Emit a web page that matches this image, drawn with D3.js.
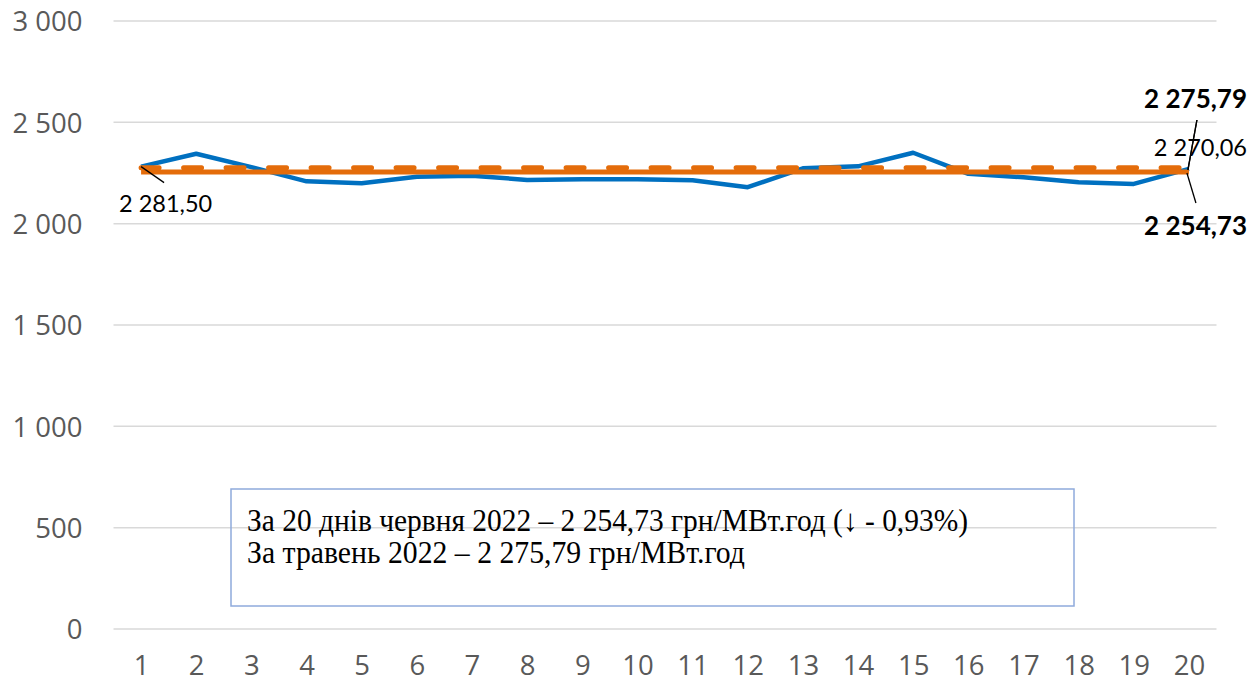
<!DOCTYPE html>
<html>
<head>
<meta charset="utf-8">
<script src="https://cdn.jsdelivr.net/npm/d3@7"></script>
<style>
  body { margin: 0; background: #ffffff; }
  svg { display: block; }
</style>
</head>
<body>
<div id="container"></div>
<script>
/* DATA | daily RDN prices, June 2022 */
const days = ["1","2","3","4","5","6","7","8","9","10","11","12","13","14","15","16","17","18","19","20"]
const dailyPrice = [2281.50, 2345, 2279, 2209, 2199, 2232, 2237, 2216, 2219, 2219,
                    2214, 2180, 2273, 2283, 2350, 2246, 2229, 2204, 2196, 2270.06]
const juneAvg = 2254.73   /* solid orange */
const mayAvg = 2275.79    /* dashed orange */
const yTicks = [0, 500, 1000, 1500, 2000, 2500, 3000]
const noteLines = [
  "За 20 днів червня 2022 – 2 254,73 грн/МВт.год (↓ - 0,93%)",
  "За травень 2022 – 2 275,79 грн/МВт.год"
]

/* CONSTANTS */
const width = 1251,
  height = 682,
  margin = { top: 21, bottom: 53, left: 113.5, right: 34.5 }

const blue = "#0070c0",
  orange = "#e46c0a",
  grid = "#d9d9d9"

/* ukrainian style numbers: space for thousands, comma for decimals */
const uk = d3.formatLocale({ decimal: ",", thousands: " ", grouping: [3], currency: ["", ""] })
const fmtTick = uk.format(",")
const fmt2 = uk.format(",.2f")

/* SCALES */
const xScale = d3.scalePoint()
  .domain(days)
  .range([margin.left, width - margin.right])
  .padding(0.5)

const yScale = d3.scaleLinear()
  .domain([0, 3000])
  .range([height - margin.bottom, margin.top])

/* SVG */
const svg = d3.select("#container")
  .append("svg")
  .attr("width", width)
  .attr("height", height)

/* GRIDLINES */
svg.append("g")
  .selectAll("line")
  .data(yTicks)
  .join("line")
  .attr("x1", margin.left)
  .attr("x2", width - margin.right)
  .attr("y1", d => yScale(d))
  .attr("y2", d => yScale(d))
  .attr("stroke", grid)
  .attr("stroke-width", 1.5)

/* AXES | d3 axes, domain path and ticks hidden */
const yAxis = d3.axisLeft(yScale)
  .tickValues(yTicks)
  .tickFormat(fmtTick)
  .tickSize(0)
  .tickPadding(31)

svg.append("g")
  .attr("transform", `translate(${margin.left}, 0)`)
  .call(yAxis)
  .call(g => g.select(".domain").remove())
  .selectAll("text")
  .attr("dy", "0.36em")
  .style("font-family", "'Open Sans', sans-serif")
  .style("font-size", "27.5px")
  .style("fill", "#595959")

const xAxis = d3.axisBottom(xScale)
  .tickSize(0)
  .tickPadding(26)

svg.append("g")
  .attr("transform", `translate(0, ${yScale(0)})`)
  .call(xAxis)
  .call(g => g.select(".domain").remove())
  .selectAll("text")
  .attr("dy", "0.71em")
  .style("font-family", "'Open Sans', sans-serif")
  .style("font-size", "27.5px")
  .style("fill", "#595959")

/* LINES */
const lineGen = d3.line()
  .x((d, i) => xScale(days[i]))
  .y(d => yScale(d))

svg.append("path")
  .datum(dailyPrice)
  .attr("d", lineGen)
  .attr("fill", "none")
  .attr("stroke", blue)
  .attr("stroke-width", 4.5)
  .attr("stroke-linejoin", "round")

const first = days[0], last = days[days.length - 1]

/* june average, solid */
svg.append("line")
  .attr("x1", xScale(first)).attr("x2", xScale(last))
  .attr("y1", yScale(juneAvg)).attr("y2", yScale(juneAvg))
  .attr("stroke", orange)
  .attr("stroke-width", 5)

/* may average, dashed with round ends */
svg.append("line")
  .attr("x1", xScale(first)).attr("x2", xScale(last))
  .attr("y1", yScale(mayAvg)).attr("y2", yScale(mayAvg))
  .attr("stroke", orange)
  .attr("stroke-width", 5)
  .attr("stroke-linecap", "round")
  .attr("stroke-dasharray", "18 24.5")

/* DATA LABELS + LEADER LINES */
const labelFont = "Lato, 'Open Sans', sans-serif"
const px1 = xScale(first), py1 = yScale(dailyPrice[0])
const px20 = xScale(last)

const leaders = [
  [px1, py1, px1 + 23, py1 + 16],
  [px20 - 1, yScale(mayAvg) + 2, px20 + 8, 120],
  [px20 - 2, yScale(juneAvg) + 1, px20 + 7, 203]
]
svg.append("g")
  .selectAll("line")
  .data(leaders)
  .join("line")
  .attr("x1", d => d[0]).attr("y1", d => d[1])
  .attr("x2", d => d[2]).attr("y2", d => d[3])
  .attr("stroke", "#000000")
  .attr("stroke-width", 1.3)

const labels = [
  { text: fmt2(dailyPrice[0]), x: px1 - 22, y: 211.5, anchor: "start", bold: false, size: 23.5 },
  { text: fmt2(dailyPrice[dailyPrice.length - 1]), x: 1247, y: 156, anchor: "end", bold: false, size: 23.5 },
  { text: fmt2(mayAvg), x: 1247, y: 108, anchor: "end", bold: true, size: 26 },
  { text: fmt2(juneAvg), x: 1247, y: 235, anchor: "end", bold: true, size: 26 }
]
svg.append("g")
  .selectAll("text")
  .data(labels)
  .join("text")
  .attr("x", d => d.x)
  .attr("y", d => d.y)
  .attr("text-anchor", d => d.anchor)
  .style("font-family", labelFont)
  .style("font-size", d => d.size + "px")
  .style("font-weight", d => d.bold ? "bold" : "normal")
  .style("fill", "#000000")
  .text(d => d.text)

/* the upper leader crosses over the 2 270,06 label in the original */
svg.append("line")
  .attr("x1", leaders[1][0]).attr("y1", leaders[1][1])
  .attr("x2", leaders[1][2]).attr("y2", leaders[1][3])
  .attr("stroke", "#000000")
  .attr("stroke-width", 1.3)

/* NOTE BOX */
svg.append("rect")
  .attr("x", 231)
  .attr("y", 489)
  .attr("width", 843)
  .attr("height", 117)
  .attr("fill", "none")
  .attr("stroke", "#8faadc")
  .attr("stroke-width", 1.5)

const noteWidths = [721, 498] /* condensed like the original */
svg.append("g")
  .selectAll("text")
  .data(noteLines)
  .join("text")
  .attr("x", 247)
  .attr("y", (d, i) => 531 + i * 32)
  .attr("textLength", (d, i) => noteWidths[i])
  .attr("lengthAdjust", "spacingAndGlyphs")
  .style("font-family", "'Liberation Serif', 'Times New Roman', serif")
  .style("font-size", "31px")
  .style("fill", "#000000")
  .text(d => d)
</script>
</body>
</html>
